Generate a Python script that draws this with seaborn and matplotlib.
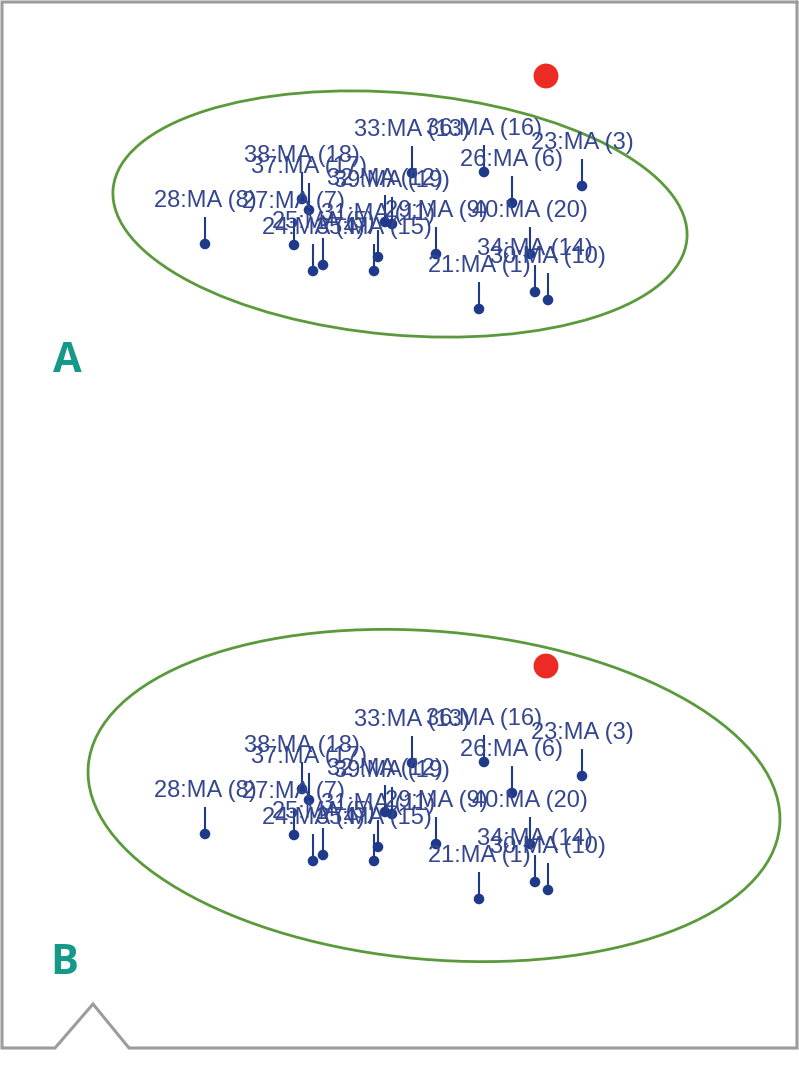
import matplotlib
matplotlib.use("Agg")
import matplotlib.pyplot as plt
from matplotlib.patches import Ellipse
from matplotlib.lines import Line2D
import seaborn as sns
import pandas as pd

# ---- data (score-plot coordinates) ----
labels = ["21:MA (1)", "23:MA (3)", "24:MA (4)", "25:MA (5)", "26:MA (6)",
          "27:MA (7)", "28:MA (8)", "29:MA (9)", "30:MA (10)", "31:MA (11)",
          "32:MA (12)", "33:MA (13)", "34:MA (14)", "35:MA (15)", "36:MA (16)",
          "37:MA (17)", "38:MA (18)", "39:MA (19)", "40:MA (20)"]
pc1 = [7.9, 18.2, -8.7, -7.7, 11.2, -10.6, -19.5, 3.6, 14.8, -2.2,
       -1.5, 1.2, 13.5, -2.6, 8.4, -9.1, -9.8, -0.8, 13.0]
pc2 = [-9.4, 2.9, -5.6, -5.0, 1.2, -3.0, -2.9, -3.9, -8.5, -4.2,
       -0.7, 4.2, -7.7, -5.6, 4.3, 0.5, 1.6, -0.9, -3.9]
outlier_pc1 = [14.6]
outlier_pc2 = [13.9]

# confidence ellipses (centre x, centre y, width, height, angle) per panel
panel_names = ["A", "B"]
ell_cx = [0.0, 3.4]
ell_cy = [0.1, 0.95]
ell_w = [57.6, 69.4]
ell_h = [24.2, 32.8]
ell_angle = [-5, -5]

df = pd.DataFrame({"pc1": pc1, "pc2": pc2, "label": labels})
out = pd.DataFrame({"pc1": outlier_pc1, "pc2": outlier_pc2})

sns.set_style("white")
plt.rcParams["font.family"] = ["Liberation Sans", "DejaVu Sans"]

W, H = 799, 1066
fig = plt.figure(figsize=(W / 100, H / 100), dpi=100)

dot_col = "#1f3a8a"
txt_col = "#34468f"
ylims = [(-31.8, 21.5), (-26.1, 27.2)]
tops = [0, 533]

for i, name in enumerate(panel_names):
    top = tops[i]
    ax = fig.add_axes([0, 1 - (top + 533) / H, 1, 533 / H])
    ax.set_xlim(-40, 39.9)
    ax.set_ylim(*ylims[i])
    ax.axis("off")

    ax.add_patch(Ellipse((ell_cx[i], ell_cy[i]), ell_w[i], ell_h[i],
                         angle=ell_angle[i], fill=False,
                         edgecolor="#5b9a3c", lw=2.0, zorder=1))
    ax.vlines(df["pc1"], df["pc2"], df["pc2"] + 2.7, color=dot_col,
              lw=1.5, zorder=2)
    sns.scatterplot(data=df, x="pc1", y="pc2", ax=ax, color=dot_col,
                    s=58, edgecolor="none", zorder=3, legend=False)
    sns.scatterplot(data=out, x="pc1", y="pc2", ax=ax, color="#ec2b24",
                    s=320, edgecolor="none", zorder=3, legend=False)
    for _, r in df.iterrows():
        ax.text(r["pc1"], r["pc2"] + 4.3, r["label"], ha="center",
                va="center", fontsize=17, color=txt_col, zorder=4)
    ax.set_xlabel("")
    ax.set_ylabel("")

# panel letters
fig.text(67 / W, 1 - 362 / H, "A", fontsize=30, fontweight="bold",
         color="#17998a", ha="center", va="center", family=["Open Sans", "DejaVu Sans"])
fig.text(64 / W, 1 - 964 / H, "B", fontsize=30, fontweight="bold",
         color="#17998a", ha="center", va="center", family=["Open Sans", "DejaVu Sans"])

# surrounding frame with notch
fx = [797, 797, 129, 93, 55, 2, 2, 797]
fy = [2, 1048, 1048, 1004, 1048, 1048, 2, 2]
fig.add_artist(Line2D([x / W for x in fx], [1 - y / H for y in fy],
                      transform=fig.transFigure, color="#9c9c9c", lw=2.2,
                      solid_joinstyle="miter"))

fig.savefig("out.png", dpi=100)
